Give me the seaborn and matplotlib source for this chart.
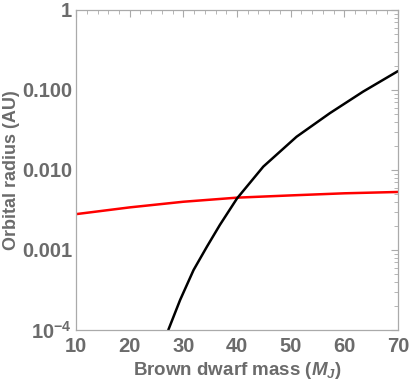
import matplotlib
matplotlib.use('Agg')
import matplotlib.pyplot as plt
import matplotlib.ticker as mticker
import seaborn as sns
import pandas as pd

# Values
mass_black = [27.2, 29.4, 31.9, 34.4, 36.8, 40.0, 44.9, 51.1, 57.3, 63.5, 70.0]
radius_black = [1.0e-4, 2.37e-4, 5.6e-4, 1.1e-3, 2.05e-3, 4.4e-3, 0.011, 0.026, 0.0512, 0.0953, 0.172]
mass_red = [10, 20, 30, 40, 50, 60, 70]
radius_red = [0.0028, 0.0034, 0.0040, 0.0045, 0.0048, 0.0051, 0.0053]

y_ticks = [1e-4, 1e-3, 1e-2, 1e-1, 1]
y_tick_labels = ['$10^{-4}$', '0.001', '0.010', '0.100', '1']
x_ticks = [10, 20, 30, 40, 50, 60, 70]

sns.set_style('white')
plt.rcParams['font.family'] = ['Liberation Sans', 'DejaVu Sans']
plt.rcParams['font.weight'] = 'bold'
plt.rcParams['mathtext.fontset'] = 'custom'
plt.rcParams['mathtext.rm'] = 'Liberation Sans:bold'
plt.rcParams['mathtext.it'] = 'Liberation Sans:italic:bold'
plt.rcParams['mathtext.bf'] = 'Liberation Sans:bold'

grey = '#6b6b6b'
black_df = pd.DataFrame({'mass': mass_black, 'radius': radius_black})
red_df = pd.DataFrame({'mass': mass_red, 'radius': radius_red})

fig = plt.figure(figsize=(4.09, 3.84), dpi=100)
ax = fig.add_axes([0.186, 0.141, 0.787, 0.833])
sns.lineplot(data=red_df, x='mass', y='radius', color='red', lw=1.8, ax=ax)
sns.lineplot(data=black_df, x='mass', y='radius', color='black', lw=1.8, ax=ax)

ax.set_yscale('log')
ax.set_xlim(10, 70)
ax.set_ylim(1e-4, 1)
ax.set_xticks(x_ticks)
ax.set_yticks(y_ticks)
ax.set_yticklabels(y_tick_labels)
ax.xaxis.set_minor_locator(mticker.MultipleLocator(2))
ax.yaxis.set_minor_locator(mticker.LogLocator(base=10, subs=range(2, 10)))
ax.yaxis.set_minor_formatter(mticker.NullFormatter())
ax.tick_params(which='both', direction='in', top=True, right=True, colors='#aaaaaa',
               labelcolor=grey, labelsize=14.5)
ax.tick_params(which='major', length=5, width=0.8)
ax.tick_params(which='minor', length=3, width=0.6)
ax.tick_params(axis='x', which='major', pad=5)
ax.tick_params(axis='y', which='major', pad=3)
for sp in ax.spines.values():
    sp.set_color('#aaaaaa')
    sp.set_linewidth(0.9)

ax.set_xlabel('Brown dwarf mass ($M_J$)', fontsize=13.5, color=grey, fontweight='bold', labelpad=3)
ax.set_ylabel('Orbital radius (AU)', fontsize=13, color=grey, fontweight='bold', labelpad=1)

fig.savefig('out.png', dpi=100)
